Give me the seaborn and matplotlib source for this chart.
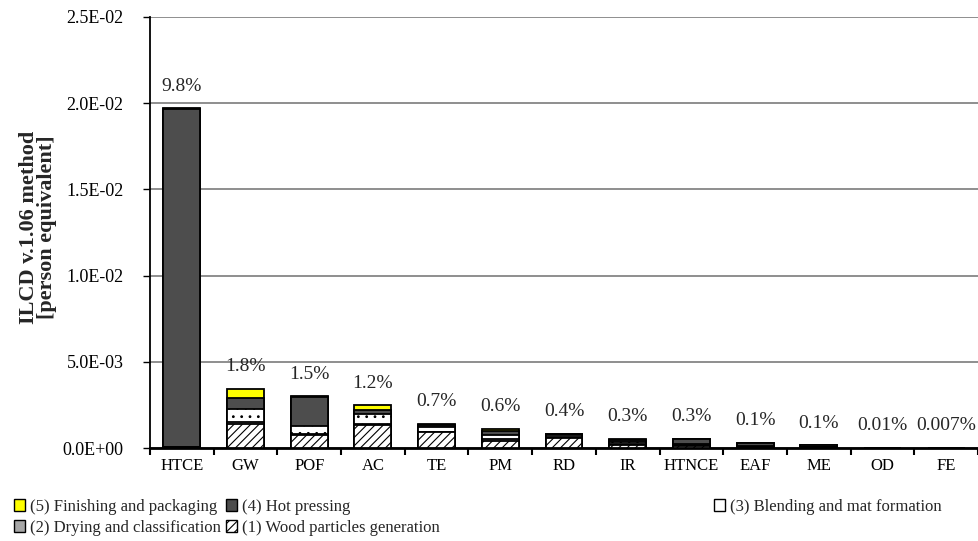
import numpy as np
import pandas as pd
import matplotlib
matplotlib.use("Agg")
import matplotlib.pyplot as plt
import seaborn as sns
from matplotlib.patches import Patch
from matplotlib.ticker import FuncFormatter

# Impact categories (ILCD midpoint) and per-stage contributions [person equivalent]
categories = ["HTCE", "GW", "POF", "AC", "TE", "PM", "RD", "IR",
              "HTNCE", "EAF", "ME", "OD", "FE"]
wood_particles = [0.00002, 0.00140, 0.00078, 0.00132, 0.00092, 0.00040, 0.00060,
                  0.00015, 0.00012, 0.00005, 0.00002, 0.000005, 0.000004]
drying = [0.00001, 0.00009, 0.00002, 0.00010, 0.00002, 0.00015, 0.00003,
          0.00007, 0.00005, 0.00001, 0.00001, 0.000002, 0.000001]
blending = [0.00002, 0.00078, 0.00048, 0.00055, 0.00025, 0.00020, 0.00015,
            0.00010, 0.00008, 0.00003, 0.00002, 0.000005, 0.000003]
hot_pressing = [0.01962, 0.00061, 0.00166, 0.00022, 0.00017, 0.00022, 0.00005,
                0.00015, 0.00025, 0.00020, 0.00010, 0.000006, 0.000005]
finishing = [0.00003, 0.00056, 0.00006, 0.00028, 0.00002, 0.00012, 0.00001,
             0.00008, 0.00003, 0.00001, 0.00001, 0.000002, 0.000001]
share_labels = ["9.8%", "1.8%", "1.5%", "1.2%", "0.7%", "0.6%", "0.4%",
                "0.3%", "0.3%", "0.1%", "0.1%", "0.01%", "0.007%"]

stage_names = ["(1) Wood particles generation", "(2) Drying and classification",
               "(3) Blending and mat formation", "(4) Hot pressing",
               "(5) Finishing and packaging"]
stage_values = [wood_particles, drying, blending, hot_pressing, finishing]
stage_colors = ["white", "#A6A6A6", "white", "#4D4D4D", "#FFFF00"]
stage_hatch = ["////", None, "..", None, None]
legend_hatch = ["////", None, None, None, None]

sns.set_theme(style="white")
plt.rcParams["font.family"] = ["Liberation Serif", "DejaVu Serif"]
plt.rcParams["hatch.color"] = "black"
plt.rcParams["hatch.linewidth"] = 0.8

df = pd.DataFrame({"category": categories})
for name, vals in zip(stage_names, stage_values):
    df[name] = vals
cum = df[stage_names].cumsum(axis=1)
totals = cum[stage_names[-1]].values

fig = plt.figure(figsize=(9.79, 5.41), dpi=100)
ax = fig.add_axes([0.1532, 0.1719, 0.8458, 0.7967])

# Stacked bars: draw cumulative heights from the top stage down
for k in range(len(stage_names) - 1, -1, -1):
    name = stage_names[k]
    sns.barplot(x=df["category"], y=cum[name], order=categories,
                color=stage_colors[k], saturation=1, edgecolor="black",
                linewidth=1.3, hatch=stage_hatch[k], width=0.58,
                errorbar=None, ax=ax, zorder=3)

for i, (tot, lab) in enumerate(zip(totals, share_labels)):
    ax.annotate(lab, xy=(i, tot), xytext=(0, 16), textcoords="offset points",
                ha="center", va="center", fontsize=14)

ax.set_xlim(-0.5, 12.5)
ax.set_ylim(0, 0.025)
ax.set_yticks(np.arange(0, 0.02501, 0.005))
ax.yaxis.set_major_formatter(FuncFormatter(lambda v, p: f"{v:.1E}"))
ax.yaxis.grid(True, color="#868686", linewidth=1.3)
ax.set_axisbelow(True)

ax.set_xticks(np.arange(len(categories)))
ax.set_xticklabels(categories)
ax.set_xticks(np.arange(-0.5, len(categories), 1), minor=True)
ax.tick_params(axis="x", which="major", length=0, pad=7, labelsize=12, colors="black")
ax.tick_params(axis="x", which="minor", length=5, width=1.5, direction="out",
               color="black", bottom=True)
ax.tick_params(axis="y", which="major", length=5, width=1.0, direction="out",
               left=True, pad=14, labelsize=13, colors="black")

for side in ["top", "right"]:
    ax.spines[side].set_visible(False)
ax.spines["left"].set_color("black")
ax.spines["left"].set_linewidth(1.3)
ax.spines["bottom"].set_color("black")
ax.spines["bottom"].set_linewidth(2.0)

ax.set_xlabel("")
ax.set_ylabel("ILCD v.1.06 method\n[person equivalent]", fontsize=16,
              fontweight="bold", linespacing=0.9)
ax.yaxis.set_label_coords(-0.112, 0.513)

# Legend in three columns, read row by row
def handle(k):
    return Patch(facecolor=stage_colors[k], edgecolor="black", linewidth=1.0,
                 hatch=legend_hatch[k])

columns = [([4, 1], 0.0143), ([3, 0], 0.231), ([2], 0.729)]
for idx, x0 in columns:
    leg = fig.legend([handle(k) for k in idx], [stage_names[k] for k in idx],
                     loc="upper left", bbox_to_anchor=(x0, 0.078),
                     frameon=False, fontsize=12, handlelength=0.65,
                     handleheight=0.65, handletextpad=0.3, labelspacing=0.3,
                     borderpad=0, borderaxespad=0)

fig.savefig("out.png", dpi=100)
